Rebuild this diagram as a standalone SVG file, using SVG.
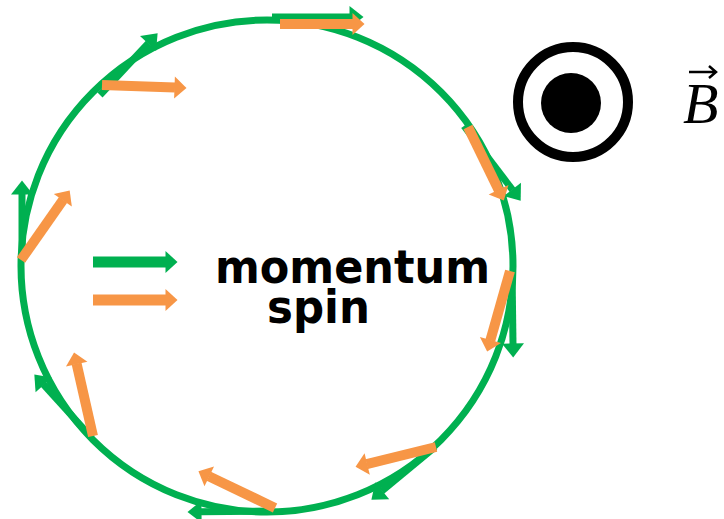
<svg xmlns="http://www.w3.org/2000/svg" width="724" height="519" viewBox="0 0 724 519">
<style>
.g{stroke:#00B050;stroke-width:7;fill:none;marker-end:url(#hg)}
.o{stroke:#F79646;stroke-width:10;fill:none;marker-end:url(#ho)}
.gl{stroke:#00B050;stroke-width:11;fill:none;marker-end:url(#hgl)}
.lbl{font-family:"DejaVu Sans",sans-serif;font-weight:bold;font-size:47px;fill:#000}
</style>
<defs>
<marker id="hg" markerUnits="userSpaceOnUse" orient="auto" refX="0.5" refY="0" markerWidth="14" markerHeight="22" viewBox="0 -11 14 22" overflow="visible"><path d="M0,-11 L14,0 L0,11 z" fill="#00B050"/></marker>
<marker id="ho" markerUnits="userSpaceOnUse" orient="auto" refX="0.5" refY="0" markerWidth="12" markerHeight="22" viewBox="0 -11 12 22" overflow="visible"><path d="M0,-11 L12,0 L0,11 z" fill="#F79646"/></marker>
<marker id="hgl" markerUnits="userSpaceOnUse" orient="auto" refX="0.5" refY="0" markerWidth="12" markerHeight="22" viewBox="0 -11 12 22" overflow="visible"><path d="M0,-11 L12,0 L0,11 z" fill="#00B050"/></marker>
</defs>
<rect width="724" height="519" fill="#fff"/>
<g id="orbit"><circle cx="267" cy="266" r="246" fill="none" stroke="#00B050" stroke-width="7"/></g>
<g id="momentum-arrows">
<line class="g" x1="272" y1="17" x2="350" y2="17"/>
<line class="g" x1="100" y1="95" x2="148.4" y2="43.2"/>
<line class="g" x1="464" y1="126" x2="512.5" y2="189.9"/>
<line class="g" x1="512" y1="271" x2="513" y2="344"/>
<line class="g" x1="435" y1="447" x2="381.8" y2="491.1"/>
<line class="g" x1="272" y1="511" x2="201" y2="511.8"/>
<line class="g" x1="92" y1="438" x2="43.4" y2="384.4"/>
<line class="g" x1="22" y1="262" x2="22" y2="194"/>
</g>
<g id="spin-arrows">
<line class="o" x1="280" y1="24" x2="353" y2="24"/>
<line class="o" x1="102" y1="85" x2="175" y2="87.6"/>
<line class="o" x1="468" y1="127" x2="498.8" y2="190.2"/>
<line class="o" x1="510" y1="271" x2="490.3" y2="340.5"/>
<line class="o" x1="436" y1="447" x2="366.7" y2="464.1"/>
<line class="o" x1="275" y1="508" x2="208.8" y2="476.2"/>
<line class="o" x1="93" y1="436" x2="76.6" y2="363.7"/>
<line class="o" x1="21" y1="260" x2="63.1" y2="199.8"/>
</g>
<g id="legend">
<line class="gl" x1="93" y1="262" x2="166" y2="262"/>
<line class="o" x1="93" y1="300" x2="166" y2="300" style="stroke-width:11"/>
<text class="lbl" x="215" y="283" textLength="275" lengthAdjust="spacingAndGlyphs">momentum</text>
<text class="lbl" x="267" y="323" textLength="103" lengthAdjust="spacingAndGlyphs">spin</text>
</g>
<g id="field">
<circle cx="573" cy="102" r="55" fill="none" stroke="#000" stroke-width="10"/>
<circle cx="571" cy="103" r="30" fill="#000"/>
<text x="683" y="123" font-family="Liberation Serif, serif" font-style="italic" font-size="58" fill="#000">B</text>
<path d="M689,72 H716 M709,66 L716,72 L709,78" fill="none" stroke="#000" stroke-width="2.5"/>
</g>
</svg>
